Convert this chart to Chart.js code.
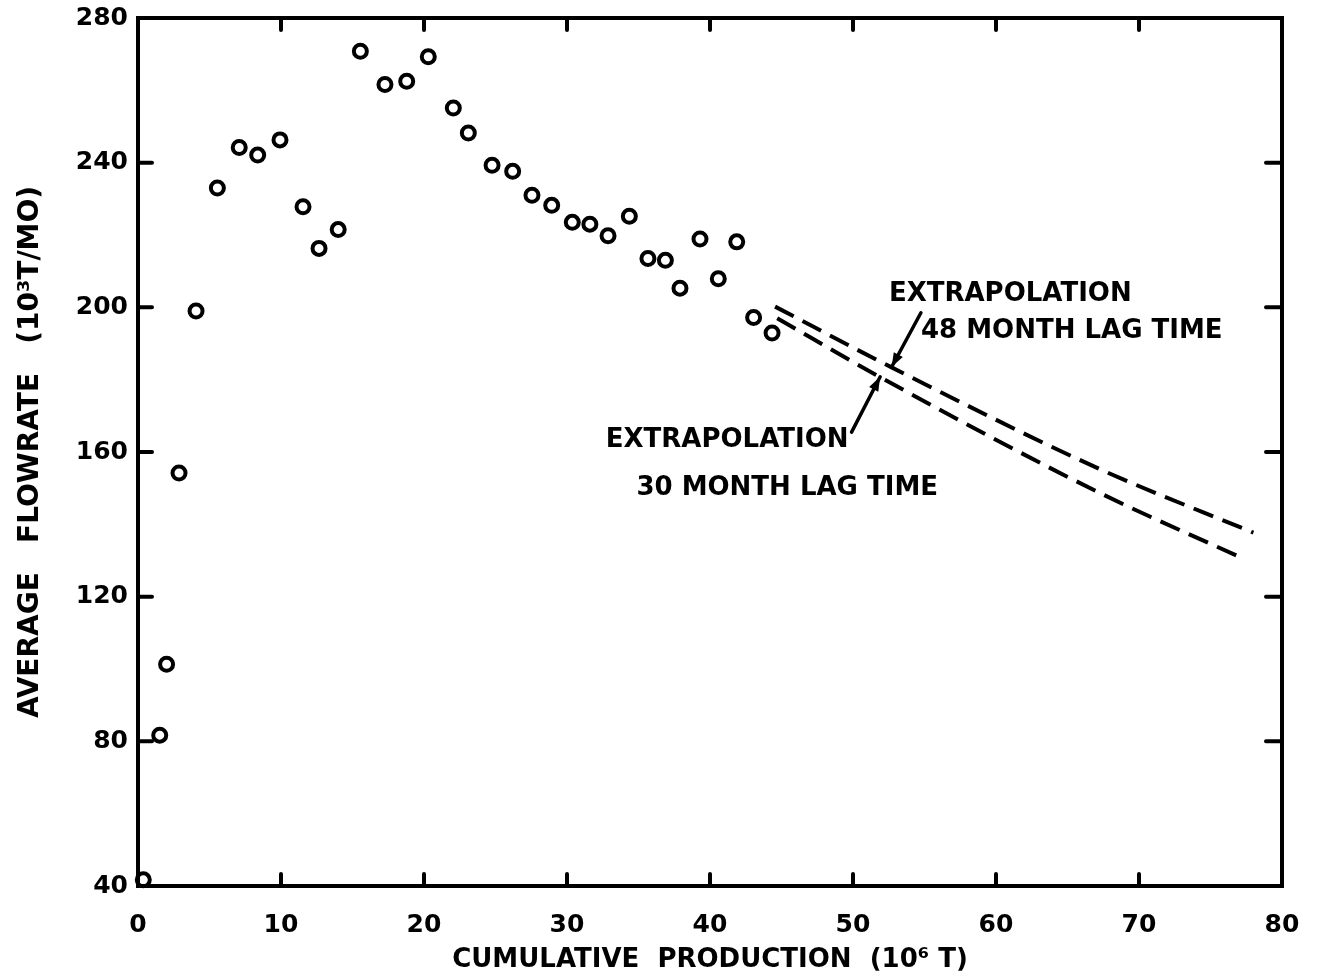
<!DOCTYPE html>
<html>
<head>
<meta charset="utf-8">
<script src="https://cdn.jsdelivr.net/npm/chart.js@4.4.0/dist/chart.umd.min.js"></script>
<style>
  html, body { margin: 0; padding: 0; background: #fff; }
  #wrap { width: 1318px; height: 980px; position: relative; }
</style>
</head>
<body>
<div id="wrap"><canvas id="myChart"></canvas></div>
<script>
// data
const cumProd = [0.37, 1.52, 2.0, 2.87, 4.06, 5.55, 7.08, 8.37, 9.93, 11.54, 12.66, 14.0, 15.55, 17.27,
  18.79, 20.3, 22.05, 23.1, 24.76, 26.2, 27.55, 28.93, 30.37, 31.6, 32.87, 34.36, 35.66, 36.88,
  37.9, 39.3, 40.58, 41.87, 43.05, 44.34];
const flowrate = [41.7, 81.7, 101.3, 154.2, 199.0, 233.0, 244.2, 242.1, 246.3, 227.8, 216.3, 221.5, 270.8, 261.6,
  262.5, 269.3, 255.1, 248.2, 239.3, 237.6, 231.0, 228.2, 223.5, 223.0, 219.8, 225.2, 213.5, 213.0,
  205.3, 218.9, 207.9, 218.1, 197.2, 192.9];

const lag48X = [44.55, 52.7, 67.3, 78.0];
const lag48Y = [200.2, 183.4, 155.2, 137.7];
const lag30X = [44.7, 51.9, 67.3, 77.25];
const lag30Y = [197.0, 180.7, 148.6, 130.6];

const xTicks = [0, 10, 20, 30, 40, 50, 60, 70, 80];
const yTicks = [40, 80, 120, 160, 200, 240, 280];

const FONT = "'DejaVu Sans', sans-serif";

function toPoints(xs, ys) {
  return xs.map((x, i) => ({ x: x, y: ys[i] }));
}

// annotation text + arrows, in data units
const notes = [
  { text: "EXTRAPOLATION", x: 61.0, y: 203.5 },
  { text: "48 MONTH LAG TIME", x: 65.3, y: 193.5 },
  { text: "EXTRAPOLATION", x: 41.2, y: 163.3 },
  { text: "30 MONTH LAG TIME", x: 45.4, y: 150.0 },
];
const arrows = [
  { from: [54.75, 198.5], to: [52.7, 183.5] },
  { from: [49.9, 165.5], to: [51.9, 180.8] },
];

const framePlugin = {
  id: "frame",
  afterDatasetsDraw(chart) {
    const ctx = chart.ctx;
    const a = chart.chartArea;
    const xs = chart.scales.x;
    const ys = chart.scales.y;
    ctx.save();
    ctx.strokeStyle = "#000";
    ctx.lineWidth = 4;
    ctx.lineCap = "round";
    ctx.strokeRect(a.left, a.top, a.right - a.left, a.bottom - a.top);

    // inward ticks on all four sides
    xTicks.slice(1, -1).forEach(v => {
      const px = xs.getPixelForValue(v);
      ctx.beginPath();
      ctx.moveTo(px, a.bottom); ctx.lineTo(px, a.bottom - 12);
      ctx.moveTo(px, a.top); ctx.lineTo(px, a.top + 12);
      ctx.stroke();
    });
    yTicks.slice(1, -1).forEach(v => {
      const py = ys.getPixelForValue(v);
      ctx.beginPath();
      ctx.moveTo(a.left, py); ctx.lineTo(a.left + 14, py);
      ctx.moveTo(a.right, py); ctx.lineTo(a.right - 16, py);
      ctx.stroke();
    });

    // annotations
    ctx.fillStyle = "#000";
    ctx.font = "bold 26px " + FONT;
    ctx.textAlign = "center";
    ctx.textBaseline = "middle";
    notes.forEach(n => {
      ctx.fillText(n.text, xs.getPixelForValue(n.x), ys.getPixelForValue(n.y));
    });

    ctx.lineWidth = 3.5;
    arrows.forEach(ar => {
      const x1 = xs.getPixelForValue(ar.from[0]), y1 = ys.getPixelForValue(ar.from[1]);
      const x2 = xs.getPixelForValue(ar.to[0]), y2 = ys.getPixelForValue(ar.to[1]);
      const ang = Math.atan2(y2 - y1, x2 - x1);
      ctx.beginPath();
      ctx.moveTo(x1, y1); ctx.lineTo(x2, y2);
      ctx.stroke();
      ctx.beginPath();
      ctx.moveTo(x2, y2);
      ctx.lineTo(x2 - 15 * Math.cos(ang - 0.35), y2 - 15 * Math.sin(ang - 0.35));
      ctx.lineTo(x2 - 15 * Math.cos(ang + 0.35), y2 - 15 * Math.sin(ang + 0.35));
      ctx.closePath();
      ctx.fill();
    });
    ctx.restore();
  }
};

const ctx = document.getElementById("myChart").getContext("2d");
const myChart = new Chart(ctx, {
  type: "scatter",
  data: {
    datasets: [
      {
        label: "Average flowrate",
        data: toPoints(cumProd, flowrate),
        pointRadius: 6.5,
        pointBorderWidth: 4,
        pointBackgroundColor: "#fff",
        pointBorderColor: "#000",
        clip: false,
      },
      {
        label: "Extrapolation 48 month lag time",
        data: toPoints(lag48X, lag48Y),
        showLine: true,
        pointRadius: 0,
        borderColor: "#000",
        borderWidth: 4,
        borderDash: [21, 10],
        cubicInterpolationMode: "monotone",
      },
      {
        label: "Extrapolation 30 month lag time",
        data: toPoints(lag30X, lag30Y),
        showLine: true,
        pointRadius: 0,
        borderColor: "#000",
        borderWidth: 4,
        borderDash: [21, 10],
        cubicInterpolationMode: "monotone",
      },
    ],
  },
  options: {
    responsive: true,
    maintainAspectRatio: false,
    animation: false,
    layout: { padding: { top: 18, right: 36, left: 0, bottom: 0 } },
    plugins: {
      legend: { display: false },
      tooltip: { enabled: false },
    },
    scales: {
      x: {
        type: "linear",
        min: 0,
        max: 80,
        afterFit: s => { s.height = 94; s.paddingLeft = 0; s.paddingRight = 0; },
        afterBuildTicks: s => { s.ticks = xTicks.map(v => ({ value: v })); },
        grid: { display: false, drawTicks: false },
        border: { display: false },
        ticks: {
          padding: 24,
          color: "#000",
          font: { family: FONT, size: 25, weight: "bold" },
        },
        title: {
          display: true,
          text: "CUMULATIVE  PRODUCTION  (10\u2076 T)",
          color: "#000",
          font: { family: FONT, size: 26, weight: "bold" },
          padding: { top: 0, bottom: 4 },
        },
      },
      y: {
        type: "linear",
        min: 40,
        max: 280,
        afterFit: s => { s.width = 138; s.paddingTop = 0; s.paddingBottom = 0; },
        afterBuildTicks: s => { s.ticks = yTicks.map(v => ({ value: v })); },
        grid: { display: false, drawTicks: false },
        border: { display: false },
        ticks: {
          padding: 10,
          color: "#000",
          font: { family: FONT, size: 25, weight: "bold" },
        },
        title: {
          display: true,
          text: "AVERAGE   FLOWRATE   (10\u00b3T/MO)",
          color: "#000",
          font: { family: FONT, size: 28, weight: "bold" },
          padding: { top: 14, bottom: 0 },
        },
      },
    },
  },
  plugins: [framePlugin],
});
</script>
</body>
</html>
